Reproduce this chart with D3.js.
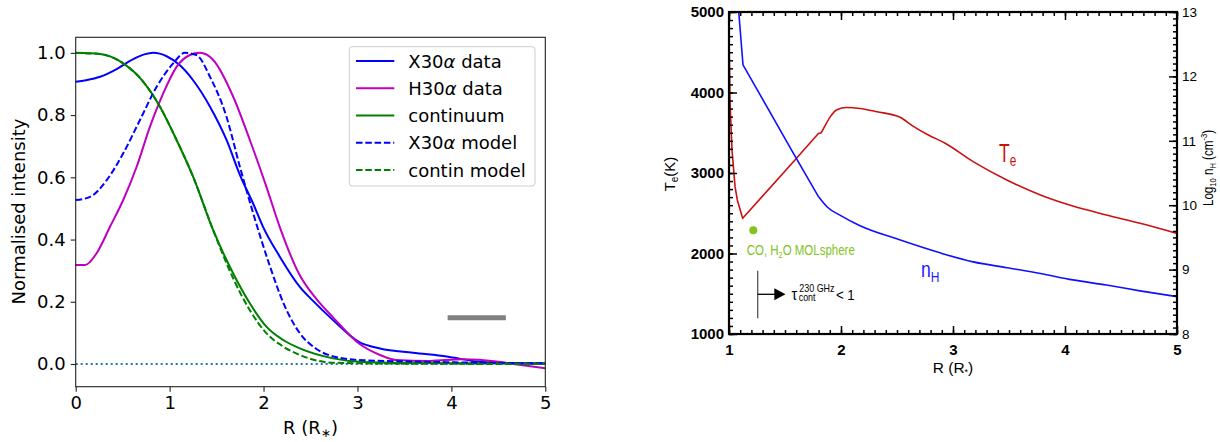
<!DOCTYPE html>
<html>
<head>
<meta charset="utf-8">
<script src="https://cdn.jsdelivr.net/npm/d3@7"></script>
<style>
  html, body { margin: 0; padding: 0; background: #fff; }
  svg { display: block; }
</style>
</head>
<body>
<svg id="chart" width="1220" height="442"></svg>
<script>
// ---------------- Left panel data: [R (R*), normalised intensity] ----------------
const x30Data = [[0,0.907],[0.11,0.912],[0.26,0.923],[0.436,0.948],[0.613,0.980],[0.73,0.995],[0.826,1.0],[0.968,0.989],[1.11,0.960],[1.25,0.912],[1.43,0.827],[1.606,0.720],[1.748,0.608],[1.89,0.515],[1.996,0.44],[2.173,0.345],[2.386,0.248],[2.53,0.202],[2.74,0.141],[3.02,0.070],[3.24,0.050],[3.59,0.036],[3.95,0.024],[4.30,0.007],[4.6,0.003],[5.0,0.002]];
const h30Data = [[0,0.318],[0.1,0.318],[0.223,0.356],[0.365,0.441],[0.506,0.527],[0.649,0.634],[0.79,0.762],[0.932,0.870],[1.074,0.955],[1.216,0.993],[1.322,1.0],[1.464,0.977],[1.677,0.859],[1.854,0.72],[2.03,0.57],[2.173,0.44],[2.386,0.285],[2.56,0.21],[2.74,0.150],[3.02,0.065],[3.24,0.029],[3.41,0.013],[3.77,0.01],[4.12,0.015],[4.48,0.008],[4.66,0.0],[5.0,-0.014]];
const contData = [[0,1.0],[0.26,0.996],[0.506,0.966],[0.72,0.907],[0.897,0.827],[1.074,0.72],[1.25,0.602],[1.464,0.43],[1.677,0.291],[1.854,0.195],[2.03,0.12],[2.209,0.077],[2.386,0.05],[2.74,0.018],[3.06,0.006],[3.5,0.003],[4.0,0.002],[5.0,0.001]];
const x30Model = [[0,0.527],[0.152,0.537],[0.33,0.591],[0.506,0.677],[0.684,0.784],[0.862,0.891],[1.038,0.966],[1.163,1.0],[1.287,0.993],[1.43,0.923],[1.606,0.794],[1.748,0.634],[1.89,0.484],[2.067,0.315],[2.22,0.19],[2.386,0.099],[2.564,0.048],[2.81,0.020],[3.06,0.012],[3.59,0.008],[4.3,0.004],[5.0,0.002]];
const contModel = [[0,1.0],[0.26,0.996],[0.506,0.966],[0.72,0.907],[0.897,0.827],[1.074,0.72],[1.25,0.602],[1.464,0.43],[1.677,0.275],[1.854,0.173],[2.03,0.099],[2.209,0.056],[2.386,0.029],[2.74,0.004],[3.5,0.001],[5.0,0.0]];
const beamBar = [[3.96,0.149],[4.58,0.149]];
const leftXTicks = [0,1,2,3,4,5];
const leftYTicks = [0.0,0.2,0.4,0.6,0.8,1.0];
const legendLabels = ["X30α data","H30α data","continuum","X30α model","contin model"];

// ---------------- Right panel data ----------------
// electron temperature (K): steep inner part, then smooth outer part
const teInner = [[1.0,4693],[1.005,4300],[1.009,3907],[1.018,3575],[1.027,3286],[1.054,2830],[1.074,2665],[1.122,2437],[1.589,3162],[1.80,3493],[1.82,3493]];
const teOuter = [[1.82,3493],[1.845,3555],[1.905,3700],[1.96,3783],[2.05,3813],[2.17,3802],[2.32,3762],[2.527,3692],[2.646,3580],[2.78,3472],[2.93,3370],[3.18,3141],[3.48,2913],[3.78,2727],[4.07,2590],[4.37,2479],[4.67,2375],[5.0,2250]];
// log10 hydrogen density (cm^-3)
const nhInner = [[1.087,13.0],[1.125,12.18],[1.574,10.81],[1.80,10.13]];
const nhOuter = [[1.80,10.13],[1.872,9.98],[2.006,9.83],[2.17,9.68],[2.51,9.47],[2.884,9.26],[3.18,9.12],[3.48,9.03],[3.78,8.94],[4.07,8.84],[4.37,8.76],[4.67,8.67],[5.0,8.58]];
const molPoint = [1.217, 2290];
const rightXTicks = [1,2,3,4,5];
const rightYTicks = [1000,2000,3000,4000,5000];
const rightY2Ticks = [8,9,10,11,12,13];

const svg = d3.select("#chart");

// =================== LEFT PANEL ===================
const LF = "'DejaVu Sans', sans-serif";
const xL = d3.scaleLinear().domain([0,5]).range([75.7,545.3]);
const yL = d3.scaleLinear().domain([-0.073,1.05]).range([386.7,37.3]);
const gL = svg.append("g");

const lineL = d3.line().x(d=>xL(d[0])).y(d=>yL(d[1])).curve(d3.curveMonotoneX);

gL.append("path").datum([[0,0],[5,0]]).attr("d", d3.line().x(d=>xL(d[0])).y(d=>yL(d[1])))
  .attr("stroke","#1f77b4").attr("stroke-width",2).attr("stroke-dasharray","2,3").attr("fill","none");

const series = [
  {d:x30Data, c:"#0000ff", dash:null},
  {d:h30Data, c:"#bf00bf", dash:null},
  {d:contData, c:"#008000", dash:null},
  {d:x30Model, c:"#0000ff", dash:"6.5,2.8"},
  {d:contModel, c:"#008000", dash:"6.5,2.8"}
];
series.forEach(s=>{
  gL.append("path").datum(s.d).attr("d", lineL).attr("fill","none")
    .attr("stroke", s.c).attr("stroke-width",2).attr("stroke-dasharray", s.dash);
});

gL.append("path").datum(beamBar).attr("d", d3.line().x(d=>xL(d[0])).y(d=>yL(d[1])))
  .attr("stroke","#808080").attr("stroke-width",5).attr("fill","none");

const axL = gL.append("g").attr("transform",`translate(0,${yL.range()[0]})`)
  .call(d3.axisBottom(xL).tickValues(leftXTicks).tickFormat(d3.format("d")).tickSize(5).tickPadding(5));
const ayL = gL.append("g").attr("transform",`translate(${xL.range()[0]},0)`)
  .call(d3.axisLeft(yL).tickValues(leftYTicks).tickFormat(d3.format(".1f")).tickSize(5).tickPadding(5));
[axL, ayL].forEach(a=>{
  a.select(".domain").remove();
  a.selectAll("line").attr("stroke","#222").attr("stroke-width",1.1);
  a.selectAll("text").attr("font-family",LF).attr("font-size",18).attr("fill","#000");
});
gL.append("rect").attr("x",xL.range()[0]).attr("y",yL.range()[1])
  .attr("width",xL.range()[1]-xL.range()[0]).attr("height",yL.range()[0]-yL.range()[1])
  .attr("fill","none").attr("stroke","#222").attr("stroke-width",1.1);

gL.append("text").attr("transform","translate(25,211.5) rotate(-90)").attr("text-anchor","middle")
  .attr("font-family",LF).attr("font-size",18).text("Normalised intensity");
const xlab = gL.append("text").attr("x",310.5).attr("y",433.5).attr("text-anchor","middle")
  .attr("font-family",LF).attr("font-size",18);
xlab.append("tspan").text("R (R");
xlab.append("tspan").attr("font-size",12).attr("dy",3).text("∗");
xlab.append("tspan").attr("dy",-3).text(")");

const leg = gL.append("g");
leg.append("rect").attr("x",349.3).attr("y",46.7).attr("width",185.7).attr("height",139.3)
  .attr("rx",3).attr("fill","#fff").attr("fill-opacity",0.8).attr("stroke","#cccccc").attr("stroke-width",1);
legendLabels.forEach((lab,i)=>{
  const yy = 61 + i*27.25;
  const s = series[i];
  leg.append("line").attr("x1",356).attr("x2",394.3).attr("y1",yy).attr("y2",yy)
    .attr("stroke",s.c).attr("stroke-width",2).attr("stroke-dasharray",s.dash);
  const t = leg.append("text").attr("x",408.3).attr("y",yy+6.5).attr("font-family",LF).attr("font-size",18);
  const m = lab.match(/^(.*?)(α)(.*)$/);
  if (m) {
    t.append("tspan").text(m[1]);
    t.append("tspan").attr("font-style","italic").text(m[2]);
    t.append("tspan").text(m[3]);
  } else t.text(lab);
});

// =================== RIGHT PANEL ===================
const RF = "'Liberation Sans', Arial, sans-serif";
const xR = d3.scaleLinear().domain([1,5]).range([729,1177]);
const yR = d3.scaleLinear().domain([1000,5000]).range([334,12]);
const yR2 = d3.scaleLinear().domain([8,13]).range([334,12]);
const gR = svg.append("g");

const defs = svg.append("defs");
defs.append("clipPath").attr("id","clipR").append("rect")
  .attr("x",729).attr("y",12).attr("width",448).attr("height",322);

const teLin = d3.line().x(d=>xR(d[0])).y(d=>yR(d[1]));
const teSm = d3.line().x(d=>xR(d[0])).y(d=>yR(d[1])).curve(d3.curveMonotoneX);
const nhLin = d3.line().x(d=>xR(d[0])).y(d=>yR2(d[1]));
const nhSm = d3.line().x(d=>xR(d[0])).y(d=>yR2(d[1])).curve(d3.curveMonotoneX);
const gCurves = gR.append("g").attr("clip-path","url(#clipR)");
const RED = "#cc1010", BLUE = "#1010ff";
gCurves.append("path").datum(teInner).attr("d",teLin).attr("fill","none").attr("stroke",RED).attr("stroke-width",1.6).attr("stroke-linejoin","round");
gCurves.append("path").datum(teOuter).attr("d",teSm).attr("fill","none").attr("stroke",RED).attr("stroke-width",1.6);
gCurves.append("path").datum(nhInner).attr("d",nhLin).attr("fill","none").attr("stroke",BLUE).attr("stroke-width",1.6).attr("stroke-linejoin","round");
gCurves.append("path").datum(nhOuter).attr("d",nhSm).attr("fill","none").attr("stroke",BLUE).attr("stroke-width",1.6);

function minorRange(a,b,step){ const out=[]; for(let v=a; v<=b+1e-9; v+=step) out.push(+v.toFixed(4)); return out; }
const xMinor = minorRange(1,5,0.1);
const yMinor = minorRange(1000,5000,100);
const y2Minor = minorRange(8,13,0.1);

function styleAxis(a){ a.select(".domain").remove(); a.selectAll("line").attr("stroke","#000").attr("stroke-width",1.5); }

styleAxis(gR.append("g").attr("transform","translate(0,334)").call(d3.axisBottom(xR).tickValues(xMinor).tickSize(-4).tickFormat("")));
styleAxis(gR.append("g").attr("transform","translate(0,12)").call(d3.axisTop(xR).tickValues(xMinor).tickSize(-4).tickFormat("")));
styleAxis(gR.append("g").attr("transform","translate(729,0)").call(d3.axisLeft(yR).tickValues(yMinor).tickSize(-4).tickFormat("")));
styleAxis(gR.append("g").attr("transform","translate(1177,0)").call(d3.axisRight(yR2).tickValues(y2Minor).tickSize(-4).tickFormat("")));

const axB = gR.append("g").attr("transform","translate(0,334)").call(d3.axisBottom(xR).tickValues(rightXTicks).tickFormat(d3.format("d")).tickSize(-8).tickPadding(10));
styleAxis(axB);
axB.selectAll("text").attr("font-family",RF).attr("font-weight","bold").attr("font-size",15).attr("fill","#000");
styleAxis(gR.append("g").attr("transform","translate(0,12)").call(d3.axisTop(xR).tickValues(rightXTicks).tickSize(-8).tickFormat("")));
const ayLR = gR.append("g").attr("transform","translate(729,0)").call(d3.axisLeft(yR).tickValues(rightYTicks).tickFormat(d3.format("d")).tickSize(-8).tickPadding(5));
styleAxis(ayLR);
ayLR.selectAll("text").attr("font-family",RF).attr("font-weight","bold").attr("font-size",15).attr("fill","#000");
const ayRR = gR.append("g").attr("transform","translate(1177,0)").call(d3.axisRight(yR2).tickValues(rightY2Ticks).tickFormat(d3.format("d")).tickSize(-8).tickPadding(5));
styleAxis(ayRR);
ayRR.selectAll("text").attr("font-family",RF).attr("font-size",13.5).attr("fill","#000");

gR.append("rect").attr("x",729).attr("y",12).attr("width",448).attr("height",322)
  .attr("fill","none").attr("stroke","#000").attr("stroke-width",2.2);

const teLab = gR.append("text").attr("transform","translate(675,174) rotate(-90)").attr("text-anchor","middle")
  .attr("font-family",RF).attr("font-size",15);
teLab.append("tspan").text("T");
teLab.append("tspan").attr("font-size",10).attr("dy",3).text("e");
teLab.append("tspan").attr("dy",-3).text("(K)");

const nLab = gR.append("text").attr("transform","translate(1213,168) rotate(-90) scale(0.8,1)").attr("text-anchor","middle")
  .attr("font-family",RF).attr("font-size",14.5);
nLab.append("tspan").text("Log");
nLab.append("tspan").attr("font-size",9.5).attr("dy",3).text("10");
nLab.append("tspan").attr("dy",-3).text(" n");
nLab.append("tspan").attr("font-size",9.5).attr("dy",3).text("H");
nLab.append("tspan").attr("dy",-3).text(" (cm");
nLab.append("tspan").attr("font-size",9.5).attr("dy",-6).text("-3");
nLab.append("tspan").attr("dy",6).text(")");

const rLab = gR.append("text").attr("x",953).attr("y",373).attr("text-anchor","middle")
  .attr("font-family",RF).attr("font-size",15.5);
rLab.append("tspan").text("R (R");
rLab.append("tspan").attr("font-size",9).attr("dy",2).text("*");
rLab.append("tspan").attr("dy",-2).text(")");

const teTxt = gR.append("text").attr("transform","translate(999,161.7) scale(0.7,1)")
  .attr("font-family",RF).attr("font-size",25).attr("fill",RED);
teTxt.append("tspan").text("T");
teTxt.append("tspan").attr("font-size",17).attr("dy",4).text("e");

const nhTxt = gR.append("text").attr("transform","translate(921,276.7) scale(0.8,1)")
  .attr("font-family",RF).attr("font-size",22).attr("fill","#1a1aff");
nhTxt.append("tspan").text("n");
nhTxt.append("tspan").attr("font-size",15).attr("dy",5).text("H");

gR.append("circle").attr("cx",xR(molPoint[0])).attr("cy",yR(molPoint[1])).attr("r",4).attr("fill","#80c41c");
const mol = gR.append("text").attr("transform","translate(746.7,255) scale(0.82,1)")
  .attr("font-family",RF).attr("font-size",14).attr("fill","#80c41c");
mol.append("tspan").text("CO, H");
mol.append("tspan").attr("font-size",9).attr("dy",3).text("2");
mol.append("tspan").attr("dy",-3).text("O MOLsphere");

gR.append("line").attr("x1",757.7).attr("x2",757.7).attr("y1",270.7).attr("y2",318.3).attr("stroke","#555").attr("stroke-width",1.3);
gR.append("line").attr("x1",757.7).attr("x2",776).attr("y1",294.3).attr("y2",294.3).attr("stroke","#000").attr("stroke-width",1.3);
gR.append("path").attr("d","M774.3,288.3 L785.5,294.3 L774.3,300.3 Z").attr("fill","#000");
gR.append("text").attr("transform","translate(791.5,300) scale(0.85,1)").attr("font-family",RF).attr("font-size",17).text("τ");
gR.append("text").attr("transform","translate(799.3,291.5) scale(0.85,1)").attr("font-family",RF).attr("font-size",10.5).text("230 GHz");
gR.append("text").attr("transform","translate(798.7,301) scale(0.85,1)").attr("font-family",RF).attr("font-size",10.5).text("cont");
gR.append("text").attr("transform","translate(836,299.5) scale(0.85,1)").attr("font-family",RF).attr("font-size",15.5).text("< 1");
</script>
</body>
</html>
